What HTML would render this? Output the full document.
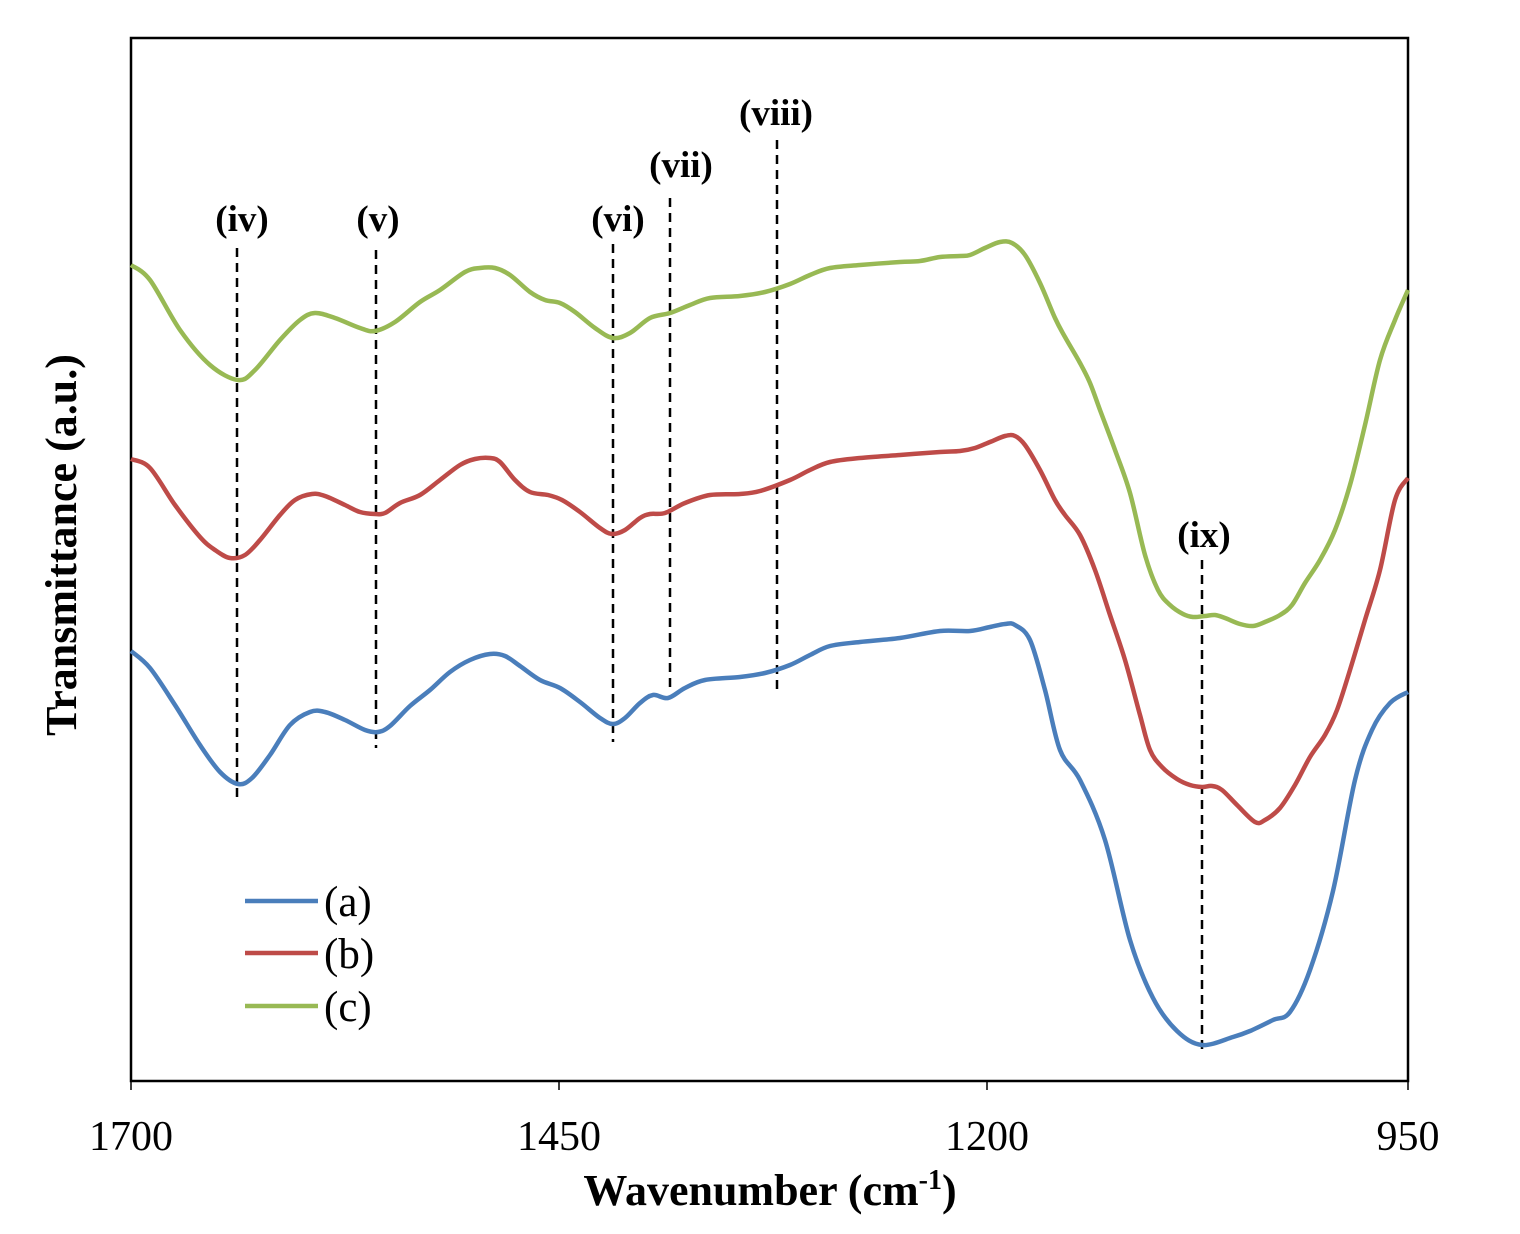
<!DOCTYPE html>
<html><head><meta charset="utf-8"><style>
html,body{margin:0;padding:0;background:#fff;}
svg{display:block;}
text{font-family:"Liberation Serif",serif;}
</style></head><body>
<svg id="s" width="1520" height="1234" viewBox="0 0 1520 1234" xmlns="http://www.w3.org/2000/svg">
<rect x="131" y="38" width="1277" height="1043" fill="none" stroke="#000" stroke-width="2.5"/>
<g stroke="#000" stroke-width="1.5" fill="none">
<line x1="131" y1="1081" x2="131" y2="1090"/><line x1="559" y1="1081" x2="559" y2="1090"/>
<line x1="987" y1="1081" x2="987" y2="1090"/><line x1="1408" y1="1081" x2="1408" y2="1090"/>
</g>
<g stroke="#000" stroke-width="2.5" stroke-dasharray="9,6" fill="none">
<line x1="237" y1="248" x2="237" y2="798"/>
<line x1="376" y1="250" x2="376" y2="748"/>
<line x1="613" y1="244" x2="613" y2="742"/>
<line x1="670" y1="198" x2="670" y2="688"/>
<line x1="777" y1="140" x2="777" y2="690"/>
<line x1="1202" y1="560" x2="1202" y2="1050"/>
</g>
<g font-size="37" font-weight="bold" text-anchor="middle">
<text x="242" y="231">(iv)</text>
<text x="378" y="231">(v)</text>
<text x="618" y="231">(vi)</text>
<text x="681" y="177">(vii)</text>
<text x="776" y="125">(viii)</text>
<text x="1204" y="547">(ix)</text>
</g>
<g font-size="42" text-anchor="middle">
<text x="131" y="1150">1700</text><text x="559" y="1150">1450</text>
<text x="987" y="1150">1200</text><text x="1408" y="1150">950</text>
</g>
<text x="770" y="1205" font-size="44" font-weight="bold" text-anchor="middle">Wavenumber (cm<tspan dy="-16" font-size="28">-1</tspan><tspan dy="16">)</tspan></text>
<text transform="translate(76,545) rotate(-90)" font-size="44" font-weight="bold" text-anchor="middle">Transmittance (a.u.)</text>
<g stroke-width="4.5">
<line x1="245" y1="901" x2="318" y2="901" stroke="#4a7ebb"/>
<line x1="245" y1="953" x2="318" y2="953" stroke="#be4b48"/>
<line x1="245" y1="1006" x2="318" y2="1006" stroke="#98b954"/>
</g>
<g font-size="43">
<text x="324" y="916">(a)</text><text x="324" y="968">(b)</text><text x="324" y="1021">(c)</text>
</g>
<path id="g" fill="none" stroke="#98b954" stroke-width="4.5"/>
<path id="r" fill="none" stroke="#be4b48" stroke-width="4.5"/>
<path id="b" fill="none" stroke="#4a7ebb" stroke-width="4.5"/>
</svg>
<script>
const G=[[131,265],[150,280],[180,330],[210,365],[238,380],[255,370],[280,340],[300,320],[315,313],[335,318],[360,328],[375,331],[395,322],[420,302],[440,290],[465,272],[480,268],[495,268],[510,275],[530,292],[545,300],[560,303],[575,312],[595,328],[613,338],[630,333],[650,318],[670,313],[690,305],[710,298],[740,296],[765,292],[790,284],[810,275],[830,268],[860,265],[900,262],[920,261],[940,257],[960,256],[970,255],[985,248],[1000,242],[1012,243],[1025,255],[1040,283],[1055,318],[1065,337],[1080,363],[1090,383],[1100,410],[1115,450],[1130,493],[1145,555],[1158,590],[1170,605],[1183,614],[1193,617],[1205,616],[1215,615],[1225,618],[1240,624],[1253,626],[1265,622],[1280,615],[1292,605],[1305,583],[1320,560],[1335,530],[1350,485],[1365,425],[1380,360],[1395,320],[1408,290]];
const R=[[131,459],[150,468],[175,505],[200,537],[215,550],[230,558],[245,555],[260,540],[280,515],[295,500],[312,494],[325,496],[345,505],[360,512],[375,514],[385,513],[400,503],[420,495],[440,480],[460,465],[475,459],[490,458],[500,462],[515,480],[530,492],[548,495],[562,500],[580,512],[600,528],[612,534],[625,530],[640,518],[650,514],[665,513],[685,503],[710,495],[740,494],[760,491],[790,480],[810,470],[830,462],[860,458],[900,455],[940,452],[960,451],[975,448],[990,442],[1005,436],[1015,436],[1025,445],[1040,470],[1055,500],[1065,515],[1080,535],[1095,570],[1110,615],[1125,660],[1140,715],[1150,750],[1162,767],[1177,779],[1190,785],[1202,787],[1212,786],[1222,790],[1237,805],[1255,822],[1265,820],[1280,808],[1295,785],[1310,757],[1325,735],[1337,710],[1350,670],[1365,620],[1380,570],[1395,500],[1408,478]];
const B=[[131,651],[150,668],[175,705],[200,745],[220,772],[238,784],[252,778],[270,755],[290,725],[310,712],[325,712],[345,720],[365,730],[378,732],[390,726],[410,706],[430,690],[450,672],[470,660],[490,654],[505,656],[520,666],[540,680],[560,688],[580,702],[600,718],[613,724],[625,718],[640,703],[653,695],[668,698],[685,688],[705,680],[740,677],[765,673],[790,665],[810,655],[830,646],[860,642],[900,638],[940,631],[970,631],[990,627],[1005,624],[1015,625],[1030,640],[1045,690],[1060,750],[1080,780],[1105,840],[1130,940],[1153,998],[1177,1031],[1202,1045],[1233,1037],[1250,1031],[1273,1020],[1290,1012],[1310,970],[1333,891],[1355,780],[1372,730],[1390,703],[1408,692]];
function cr(p){let d="M"+p[0][0]+","+p[0][1];for(let i=0;i<p.length-1;i++){const p0=p[i-1]||p[i],p1=p[i],p2=p[i+1],p3=p[i+2]||p2;
const c1=[p1[0]+(p2[0]-p0[0])/6,p1[1]+(p2[1]-p0[1])/6],c2=[p2[0]-(p3[0]-p1[0])/6,p2[1]-(p3[1]-p1[1])/6];
d+=" C"+c1.join(",")+" "+c2.join(",")+" "+p2.join(",");}return d;}
document.getElementById("g").setAttribute("d",cr(G));
document.getElementById("r").setAttribute("d",cr(R));
document.getElementById("b").setAttribute("d",cr(B));
</script>
</body></html>
